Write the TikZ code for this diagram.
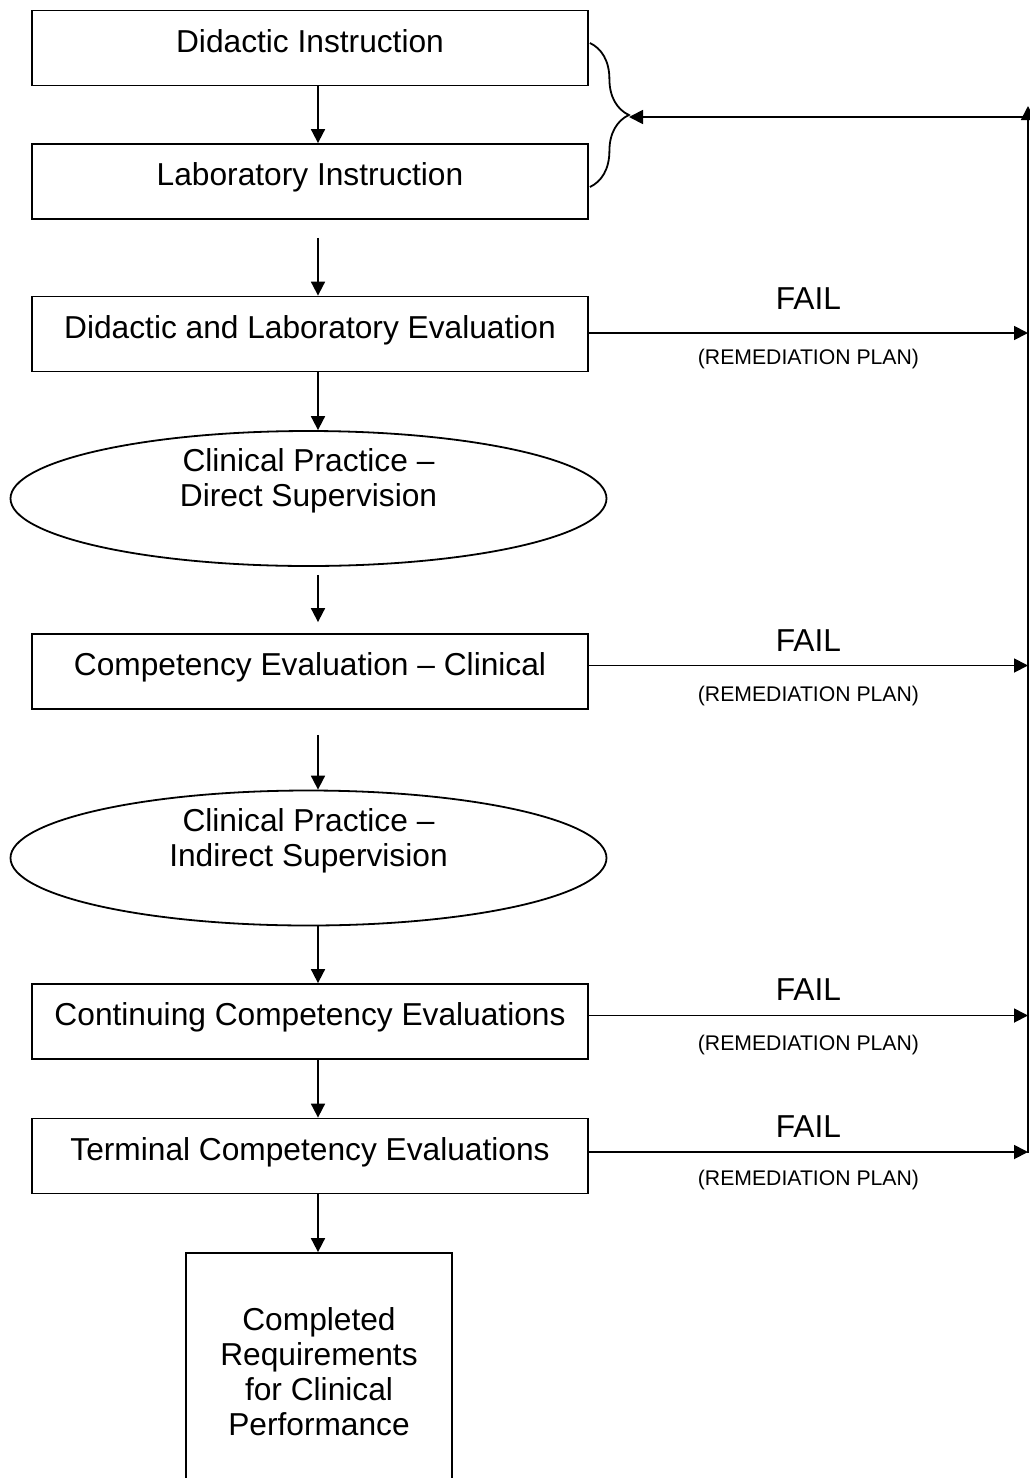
\documentclass[tikz,border=0pt]{standalone}
\usepackage{fontspec}
\setmainfont{Liberation Sans}
\usetikzlibrary{positioning, shapes.geometric, arrows.meta, calc, decorations.pathreplacing}

\begin{document}
\begin{tikzpicture}[
    x=1pt, y=-1pt,
    >={Triangle[length=14pt, width=14pt]},
    font=\fontsize{31.7}{35}\selectfont,
    % Styles
    stage/.style={
        rectangle,
        draw,
        line width=1.8pt,
        minimum width=556pt,
        minimum height=75pt,
        text height=23pt,
        text depth=15pt
    },
    practice/.style={
        ellipse,
        draw,
        line width=1.8pt,
        minimum width=596pt,
        minimum height=135pt
    },
    practicetext/.style={
        align=center
    },
    finish/.style={
        rectangle,
        draw,
        line width=1.8pt,
        minimum width=266pt,
        minimum height=238pt,
        align=center
    },
    remedy/.style={
        font=\fontsize{21.2}{24}\selectfont
    },
    arrow/.style={
        ->,
        line width=1.8pt
    },
    brace/.style={
        decorate,
        decoration={brace, amplitude=39pt},
        line width=1.8pt
    }
]
    \useasboundingbox (0,0) rectangle (1029,1478);

    % Nodes
    \node[stage] (di) at (310,48) {Didactic Instruction};
    \node[stage] (li) at (310,181.5) {Laboratory Instruction};
    \node[stage] (ev) at (310,334) {Didactic and Laboratory Evaluation};
    \node[practice] (cp1) at (308.5,498.5) {};
    \node[practicetext] at ([yshift=18pt]cp1.center) {Clinical Practice \textendash\\Direct Supervision};
    \node[stage] (ce) at (310,671.5) {Competency Evaluation \textendash\ Clinical};
    \node[practice] (cp2) at (308.5,858) {};
    \node[practicetext] at ([yshift=17pt]cp2.center) {Clinical Practice \textendash\\Indirect Supervision};
    \node[stage] (cc) at (310,1021.5) {Continuing Competency Evaluations};
    \node[stage] (tc) at (310,1156) {Terminal Competency Evaluations};
    \node[finish] (cr) at (319,1372) {Completed\\Requirements\\for Clinical\\Performance};

    \coordinate (ax) at (318,0);
    \coordinate (rail) at (1028,0);
    \coordinate (railtop) at (1028,106);
    \coordinate (railbot) at (1028,1153);
    \coordinate (join) at (1028,117);
    \coordinate (tip) at (629,117);

    % Paths
    \draw[arrow] (di.south -| ax) -- (li.north -| ax);
    \draw[arrow, shorten <=18pt] (li.south -| ax) -- (ev.north -| ax);
    \draw[arrow] (ev.south -| ax) -- (cp1.north -| ax);
    \draw[arrow, shorten <=8pt, shorten >=11pt] (cp1.south -| ax) -- (ce.north -| ax);
    \draw[arrow, shorten <=25pt] (ce.south -| ax) -- (cp2.north -| ax);
    \draw[arrow] (cp2.south -| ax) -- (cc.north -| ax);
    \draw[arrow] (cc.south -| ax) -- (tc.north -| ax);
    \draw[arrow] (tc.south -| ax) -- (cr.north -| ax);

    % Fail branches
    \draw[arrow] ([yshift=1pt]ev.east) -- ([yshift=1pt]ev.east -| rail)
        node[midway, yshift=34pt] {FAIL}
        node[midway, yshift=-26pt, remedy] {(REMEDIATION PLAN)};
    \draw[arrow] ([yshift=6pt]ce.east) -- ([yshift=6pt]ce.east -| rail)
        node[midway, yshift=25pt] {FAIL}
        node[midway, yshift=-31pt, remedy] {(REMEDIATION PLAN)};
    \draw[arrow] ([yshift=6pt]cc.east) -- ([yshift=6pt]cc.east -| rail)
        node[midway, yshift=26pt] {FAIL}
        node[midway, yshift=-29pt, remedy] {(REMEDIATION PLAN)};
    \draw[arrow] ([yshift=4pt]tc.east) -- ([yshift=4pt]tc.east -| rail)
        node[midway, yshift=25pt] {FAIL}
        node[midway, yshift=-28pt, remedy] {(REMEDIATION PLAN)};

    % Return to instruction
    \draw[arrow] (railbot) -- (railtop);
    \draw[arrow] (join) -- (tip);
    \draw[brace] ($(di.east)+(1,-5)$) -- ($(li.east)+(1,5.5)$);
\end{tikzpicture}
\end{document}
